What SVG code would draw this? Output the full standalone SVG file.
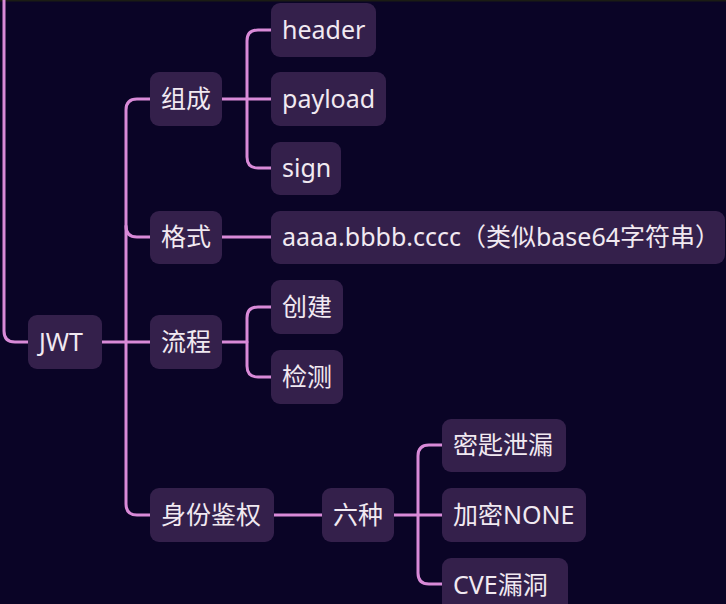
<svg xmlns="http://www.w3.org/2000/svg" width="726" height="604" viewBox="0 0 726 604">
<style>
.n{fill:#34204b}
.t{font-family:"Noto Sans","Noto Sans CJK SC",sans-serif;font-size:25px;fill:#f1e9f1}
.c{fill:none;stroke:#d98ad8;stroke-width:3;stroke-linecap:round}
</style>
<rect width="726" height="604" fill="#0a0426"/>
<rect width="726" height="1.5" fill="#1b1c14"/>
<g id="connectors" class="c">
<path d="M4,0 V331 Q4,342 15,342 H28"/>
<path d="M102,342 H150"/>
<path d="M150,99 H137 Q126,99 126,110 V504 Q126,515 137,515 H150"/>
<path d="M126,226 Q126,237 137,237 H150"/>
<path d="M222,99 H271"/>
<path d="M271,30 H258 Q247,30 247,41 V157 Q247,168 258,168 H271"/>
<path d="M222,237 H271"/>
<path d="M222,342 H247"/>
<path d="M271,307 H258 Q247,307 247,318 V366 Q247,377 258,377 H271"/>
<path d="M274,515 H322"/>
<path d="M394,515 H442"/>
<path d="M442,445 H429 Q418,445 418,456 V573 Q418,584 429,584 H442"/>
</g>
<g id="jwt"><rect class="n" x="28" y="315" width="74" height="54" rx="9"/><text class="t" x="39" y="351">JWT</text></g>
<g id="zucheng"><rect class="n" x="150" y="72" width="72" height="54" rx="9"/><text class="t" x="161" y="108">组成</text></g>
<g id="header"><rect class="n" x="271" y="3" width="105" height="54" rx="9"/><text class="t" x="282" y="39">header</text></g>
<g id="payload"><rect class="n" x="271" y="72" width="115" height="54" rx="9"/><text class="t" x="282" y="108">payload</text></g>
<g id="sign"><rect class="n" x="271" y="142" width="70" height="53" rx="9"/><text class="t" x="282" y="177">sign</text></g>
<g id="geshi"><rect class="n" x="150" y="211" width="72" height="53" rx="9"/><text class="t" x="161" y="246">格式</text></g>
<g id="format"><rect class="n" x="271" y="211" width="454" height="53" rx="9"/><text class="t" x="282" y="246" textLength="438" lengthAdjust="spacingAndGlyphs">aaaa.bbbb.cccc（类似base64字符串）</text></g>
<g id="liucheng"><rect class="n" x="150" y="315" width="72" height="54" rx="9"/><text class="t" x="161" y="351">流程</text></g>
<g id="chuangjian"><rect class="n" x="271" y="280" width="72" height="54" rx="9"/><text class="t" x="282" y="316">创建</text></g>
<g id="jiance"><rect class="n" x="271" y="350" width="72" height="54" rx="9"/><text class="t" x="282" y="386">检测</text></g>
<g id="shenfen"><rect class="n" x="150" y="488" width="124" height="54" rx="9"/><text class="t" x="161" y="524">身份鉴权</text></g>
<g id="liuzhong"><rect class="n" x="322" y="488" width="72" height="54" rx="9"/><text class="t" x="333" y="524">六种</text></g>
<g id="miyao"><rect class="n" x="442" y="419" width="124" height="53" rx="9"/><text class="t" x="453" y="454">密匙泄漏</text></g>
<g id="none"><rect class="n" x="442" y="488" width="144" height="54" rx="9"/><text class="t" x="453" y="524">加密NONE</text></g>
<g id="cve"><rect class="n" x="442" y="558" width="126" height="54" rx="9"/><text class="t" x="453" y="594">CVE漏洞</text></g>
</svg>
